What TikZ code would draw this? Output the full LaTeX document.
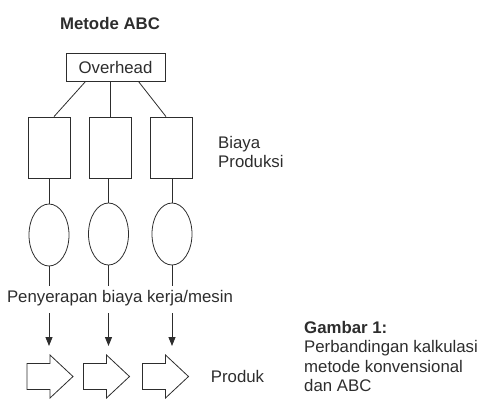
\documentclass[tikz,border=0pt]{standalone}
\usepackage{fontspec}
\setmainfont{Liberation Sans}
\usetikzlibrary{shapes.geometric,arrows.meta}
\definecolor{ink}{RGB}{45,45,45}
\begin{document}
\begin{tikzpicture}[x=1pt,y=-1pt,
  every node/.style={font=\fontsize{16.8}{19.2}\selectfont, text=ink},
  line/.style={draw=ink, line width=0.8pt},
  costbox/.style={line, rectangle, minimum width=42pt, minimum height=61pt, inner sep=0pt},
  costell/.style={line, ellipse, minimum width=40pt, minimum height=62pt, inner sep=0pt},
  blockarrow/.style={line, line join=miter},
  flow/.style={line, -{Triangle[length=9pt,width=7pt]}}]
\useasboundingbox (0,0) rectangle (482,408);
\node[font=\bfseries\fontsize{16.8}{19.2}\selectfont] (title) at (110,23) {Metode ABC};
\node[line, rectangle, minimum width=99pt, minimum height=28pt, inner sep=0pt] (ov) at (115.5,67) {Overhead};
\node[costbox] (r1) at (49,147.5) {};
\node[costbox] (r2) at (110,147.5) {};
\node[costbox] (r3) at (171,147.5) {};
\node[costell] (e1) at (49,235) {};
\node[costell] (e2) at (108.5,234) {};
\node[costell] (e3) at (172,234) {};
\node[inner sep=0pt] (lab) at (120,298) {Penyerapan biaya kerja/mesin};
\coordinate (b1) at (50,376.5);
\coordinate (b2) at (106.5,376.5);
\coordinate (b3) at (165.5,376.5);
\foreach \b in {b1,b2,b3}
  \draw[blockarrow] (\b) ++(-23,-13) -- ++(23,0) -- ++(0,-8.5) -- ++(23,21.5)
     -- ++(-23,21.5) -- ++(0,-8.5) -- ++(-23,0) -- cycle;
\node (prod) at (237.5,376) {Produk};
\node[align=left, anchor=west, inner sep=0pt] (bp) at (218,152) {Biaya\\Produksi};
\node[align=left, anchor=west, inner sep=0pt] (cap) at (304,356.5) {\textbf{Gambar 1:}\\Perbandingan kalkulasi\\metode konvensional\\dan ABC};
% connectors
\draw[line] ([xshift=20pt]ov.south west) -- ([xshift=5pt]r1.north);
\draw[line] (r2.north) -- (r2.north |- ov.south);
\draw[line] ([xshift=-27pt]ov.south east) -- ([xshift=-5pt]r3.north);
\draw[line] (r1.south) -- (r1.south |- e1.north);
\draw[line] (r2.south -| e2.north) -- (e2.north);
\draw[line] (r3.south -| e3.north) -- (e3.north);
\coordinate (t1) at (49,346);
\coordinate (t2) at (108.5,346);
\coordinate (t3) at (172,346);
\draw[line] (e1.south) -- ([yshift=4pt]e1.south |- lab.north);
\draw[line] (e2.south) -- ([yshift=4pt]e2.south |- lab.north);
\draw[line] (e3.south) -- ([yshift=4pt]e3.south |- lab.north);
\draw[flow] ([yshift=-7pt]t1 |- lab.south) -- (t1);
\draw[flow] ([yshift=-7pt]t2 |- lab.south) -- (t2);
\draw[flow] ([yshift=-7pt]t3 |- lab.south) -- (t3);
\end{tikzpicture}
\end{document}
